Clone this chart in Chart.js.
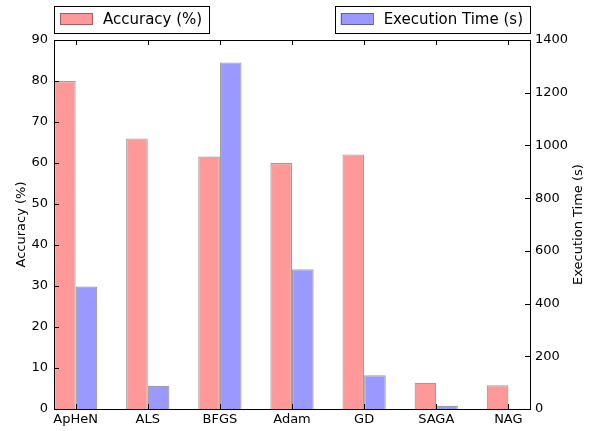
<!DOCTYPE html>
<html>
<head>
<meta charset="utf-8">
<script src="https://cdn.jsdelivr.net/npm/chart.js@4"></script>
<style>
  html, body { margin: 0; padding: 0; background: #fff; }
  #wrap { width: 598px; height: 431px; }
</style>
</head>
<body>
<div id="wrap"><canvas id="c" width="598" height="431"></canvas></div>
<script>
// Optimizers compared
const categories = ['ApHeN', 'ALS', 'BFGS', 'Adam', 'GD', 'SAGA', 'NAG'];
// Accuracy (%) per optimizer
const accuracy = [80.0, 66.0, 61.6, 60.0, 62.1, 6.4, 5.8];
// Execution time (s) per optimizer
const execTime = [465, 88, 1315, 530, 128, 12, 1];
// Axis tick values
const accTicks = [0, 10, 20, 30, 40, 50, 60, 70, 80, 90];
const timeTicks = [0, 200, 400, 600, 800, 1000, 1200, 1400];

const FONT = '"DejaVu Sans", "Liberation Sans", sans-serif';
const RED = '#ff9999';
const BLUE = '#9999ff';
const EDGE = 'rgba(0,0,0,0.38)';

const accData = accuracy.map((v, i) => ({ x: i, y: v }));
const timeData = execTime.map((v, i) => ({ x: i, y: v }));

// Frame, inward tick marks, axis titles and the two legend boxes
const decor = {
  id: 'decor',
  afterDatasetsDraw(chart) {
    const { ctx, chartArea: a, scales } = chart;
    const L = 5;
    ctx.save();
    ctx.strokeStyle = '#000';
    ctx.lineWidth = 1;
    ctx.beginPath();
    scales.x.ticks.forEach(t => {
      const px = Math.round(scales.x.getPixelForValue(t.value)) + 0.5;
      ctx.moveTo(px, a.bottom); ctx.lineTo(px, a.bottom - L);
      ctx.moveTo(px, a.top); ctx.lineTo(px, a.top + L);
    });
    scales.y.ticks.forEach(t => {
      const py = Math.round(scales.y.getPixelForValue(t.value)) + 0.5;
      ctx.moveTo(a.left, py); ctx.lineTo(a.left + L, py);
    });
    scales.y1.ticks.forEach(t => {
      const py = Math.round(scales.y1.getPixelForValue(t.value)) + 0.5;
      ctx.moveTo(a.right, py); ctx.lineTo(a.right - L, py);
    });
    ctx.stroke();
    ctx.strokeRect(Math.round(a.left) + 0.5, Math.round(a.top) + 0.5,
                   Math.round(a.right - a.left), Math.round(a.bottom - a.top));

    // axis titles, both reading bottom-to-top
    ctx.fillStyle = '#000';
    ctx.font = '13px ' + FONT;
    ctx.textAlign = 'center';
    ctx.textBaseline = 'middle';
    const midY = (a.top + a.bottom) / 2;
    ctx.save(); ctx.translate(22, midY); ctx.rotate(-Math.PI / 2);
    ctx.fillText(scales.y.options.title.text, 0, 0); ctx.restore();
    ctx.save(); ctx.translate(579, midY); ctx.rotate(-Math.PI / 2);
    ctx.fillText(scales.y1.options.title.text, 0, 0); ctx.restore();

    // legends
    ctx.font = '15px ' + FONT;
    const drawLegend = (label, color, x0, anchorRight) => {
      const tw = ctx.measureText(label).width;
      const w = 6 + 33 + 10 + tw + 7;
      const left = anchorRight ? x0 - w : x0;
      const top = 6, h = 27;
      ctx.fillStyle = '#fff';
      ctx.fillRect(left, top, w, h);
      ctx.strokeStyle = '#000';
      ctx.strokeRect(Math.round(left) + 0.5, top + 0.5, Math.round(w), h);
      ctx.fillStyle = color;
      ctx.fillRect(left + 6, top + 7, 33, 12);
      ctx.strokeStyle = EDGE;
      ctx.strokeRect(Math.round(left) + 6.5, top + 7.5, 32, 11);
      ctx.fillStyle = '#000';
      ctx.textAlign = 'left';
      ctx.fillText(label, left + 6 + 33 + 10, top + h / 2 + 0.5);
    };
    drawLegend(chart.data.datasets[0].label, RED, 54, false);
    drawLegend(chart.data.datasets[1].label, BLUE, 530, true);
    ctx.restore();
  }
};

new Chart(document.getElementById('c'), {
  type: 'bar',
  data: {
    datasets: [
      { label: 'Accuracy (%)', data: accData, yAxisID: 'y',
        backgroundColor: RED, borderColor: EDGE, borderWidth: 1.2 },
      { label: 'Execution Time (s)', data: timeData, yAxisID: 'y1',
        backgroundColor: BLUE, borderColor: EDGE, borderWidth: 1.2 }
    ]
  },
  options: {
    responsive: false,
    animation: false,
    layout: { padding: { top: 40, left: 0, right: 0, bottom: 0 } },
    categoryPercentage: 0.6,
    barPercentage: 1.0,
    plugins: { legend: { display: false }, tooltip: { enabled: false } },
    scales: {
      x: {
        type: 'linear', min: -0.3, max: 6.3, offset: false,
        grid: { display: false, drawTicks: false, offset: false },
        border: { display: false },
        ticks: {
          stepSize: 1, includeBounds: false, autoSkip: false, maxRotation: 0,
          padding: 3, color: '#000', font: { family: FONT, size: 13 },
          callback: v => categories[Math.round(v)] ?? ''
        },
        afterFit: s => { s.height = 22; }
      },
      y: {
        position: 'left', min: 0, max: 90,
        title: { display: false, text: 'Accuracy (%)' },
        grid: { display: false, drawTicks: false },
        border: { display: false },
        afterBuildTicks: s => { s.ticks = accTicks.map(v => ({ value: v })); },
        ticks: { padding: 6, color: '#000', font: { family: FONT, size: 13 },
                 callback: v => String(v) },
        afterFit: s => { s.width = 54; }
      },
      y1: {
        position: 'right', min: 0, max: 1400,
        title: { display: false, text: 'Execution Time (s)' },
        grid: { display: false, drawTicks: false },
        border: { display: false },
        afterBuildTicks: s => { s.ticks = timeTicks.map(v => ({ value: v })); },
        ticks: { padding: 5, color: '#000', font: { family: FONT, size: 13 },
                 callback: v => String(v) },
        afterFit: s => { s.width = 68; }
      }
    }
  },
  plugins: [decor]
});
</script>
</body>
</html>
